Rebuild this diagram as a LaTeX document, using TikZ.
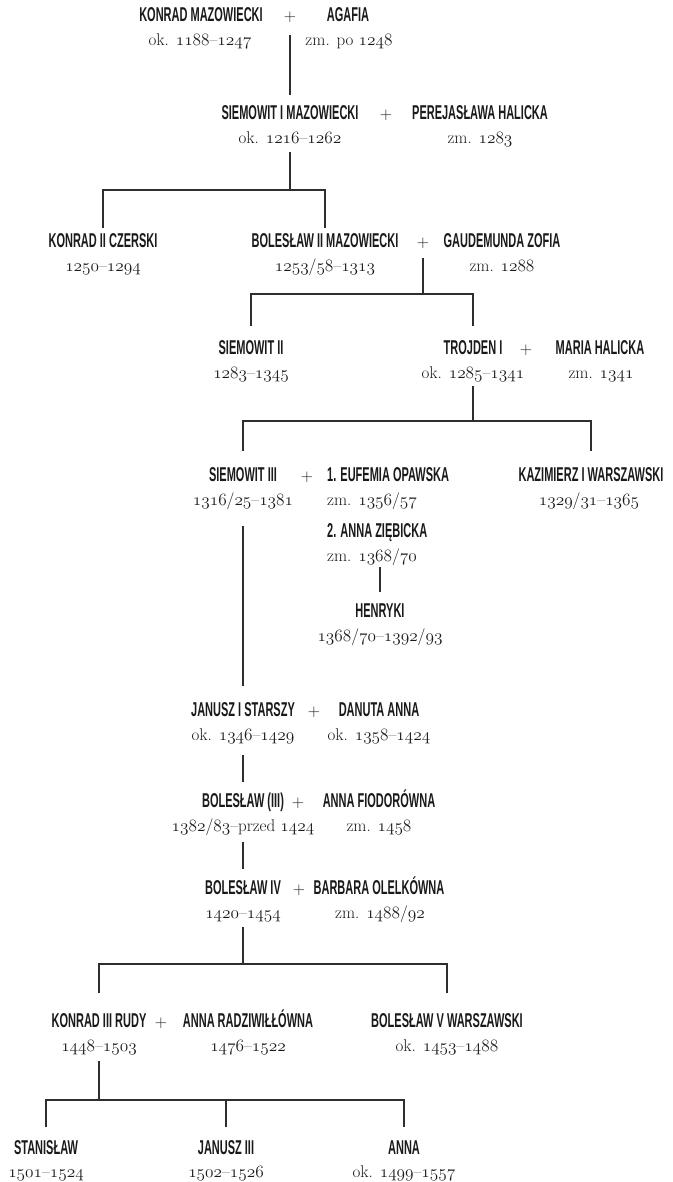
\documentclass[tikz,border=0pt]{standalone}
\usepackage{fontspec}
\newfontfamily\namefont{Liberation Sans}[FakeStretch=0.55]
\newcommand\os[1]{{\usefont{OML}{cmm}{m}{it}#1}}
\definecolor{ink}{HTML}{1A1A1A}
\definecolor{lc}{HTML}{2E2E2E}
\tikzset{
  nm/.style={font=\namefont\bfseries\fontsize{20}{22}\selectfont, text=ink, inner sep=0pt, anchor=base},
  dt/.style={font=\fontsize{17}{20}\selectfont, text=ink, inner sep=0pt, anchor=base},
  pl/.style={font=\fontsize{17}{20}\selectfont, text=ink, inner sep=0pt, anchor=base},
  ln/.style={draw=lc, line width=1.2pt}
}
\begin{document}
\begin{tikzpicture}[x=1pt,y=-1pt]
\fill[white] (0,0) rectangle (672,1182);
\useasboundingbox (0,0) rectangle (672,1182);
% row 1
\node[nm] (kon1) at (201,22) {KONRAD MAZOWIECKI};
\node[pl] (plus1) at (290,22) {+};
\node[nm] (aga1) at (348,22) {AGAFIA};
\node[dt] (kon1D) at (200,46) {ok. \os{1188}–\os{1247}};
\node[dt] (aga1D) at (349,46) {zm. po \os{1248}};
% row 2
\node[nm] (siem1) at (290,120) {SIEMOWIT I MAZOWIECKI};
\node[pl] (plus2) at (386,120) {+};
\node[nm] (per) at (480,120) {PEREJASŁAWA HALICKA};
\node[dt] (siem1D) at (290,144) {ok. \os{1216}–\os{1262}};
\node[dt] (perD) at (480,144) {zm. \os{1283}};
% row 3
\node[nm] (kon2) at (103,247.5) {KONRAD II CZERSKI};
\node[dt] (kon2D) at (103,271) {\os{1250}–\os{1294}};
\node[nm] (bol2) at (325,247.5) {BOLESŁAW II MAZOWIECKI};
\node[pl] (plus3) at (423,247.5) {+};
\node[nm] (gau) at (502,247.5) {GAUDEMUNDA ZOFIA};
\node[dt] (bol2D) at (325,271) {\os{1253}/\os{58}–\os{1313}};
\node[dt] (gauD) at (502,271) {zm. \os{1288}};
% row 4
\node[nm] (siem2) at (251,354) {SIEMOWIT II};
\node[dt] (siem2D) at (251,378) {\os{1283}–\os{1345}};
\node[nm] (tro) at (473,354) {TROJDEN I};
\node[pl] (plus4) at (526,354) {+};
\node[nm] (mar) at (600,354) {MARIA HALICKA};
\node[dt] (troD) at (473,378) {ok. \os{1285}–\os{1341}};
\node[dt] (marD) at (601,378) {zm. \os{1341}};
% row 5
\node[nm] (siem3) at (243,481) {SIEMOWIT III};
\node[pl] (plus5) at (307,481) {+};
\node[nm, anchor=base west] (euf) at (327,481) {1. EUFEMIA OPAWSKA};
\node[nm] (kaz) at (591,481) {KAZIMIERZ I WARSZAWSKI};
\node[dt] (siem3D) at (243,505) {\os{1316}/\os{25}–\os{1381}};
\node[dt, anchor=base west] (eufD) at (327,505) {zm. \os{1356}/\os{57}};
\node[dt] (kazD) at (589,505) {\os{1329}/\os{31}–\os{1365}};
\node[nm, anchor=base west] (ann) at (327,537) {2. ANNA ZIĘBICKA};
\node[dt, anchor=base west] (annD) at (327,561) {zm. \os{1368}/\os{70}};
\node[nm] (hen) at (380,617) {HENRYKI};
\node[dt] (henD) at (380,641) {\os{1368}/\os{70}–\os{1392}/\os{93}};
% row 6
\node[nm] (jan) at (243,716) {JANUSZ I STARSZY};
\node[pl] (plus6) at (314,716) {+};
\node[nm] (dan) at (379,716) {DANUTA ANNA};
\node[dt] (janD) at (243,740) {ok. \os{1346}–\os{1429}};
\node[dt] (danD) at (379,740) {ok. \os{1358}–\os{1424}};
% row 7
\node[nm] (bol3) at (243,807) {BOLESŁAW (III)};
\node[pl] (plus7) at (298,807) {+};
\node[nm] (annaF) at (379,807) {ANNA FIODORÓWNA};
\node[dt] (bol3D) at (243,831) {\os{1382}/\os{83}–przed \os{1424}};
\node[dt] (annaFD) at (379,831) {zm. \os{1458}};
% row 8
\node[nm] (bol4) at (243,894) {BOLESŁAW IV};
\node[pl] (plus8) at (299,894) {+};
\node[nm] (barb) at (379,894) {BARBARA OLELKÓWNA};
\node[dt] (bol4D) at (243,918) {\os{1420}–\os{1454}};
\node[dt] (barbD) at (380,918) {zm. \os{1488}/\os{92}};
% row 9
\node[nm] (kon3) at (99,1027) {KONRAD III RUDY};
\node[pl] (plus9) at (161,1027) {+};
\node[nm] (annR) at (248,1027) {ANNA RADZIWIŁŁÓWNA};
\node[nm] (bol5) at (447,1027) {BOLESŁAW V WARSZAWSKI};
\node[dt] (kon3D) at (99,1051) {\os{1448}–\os{1503}};
\node[dt] (annRD) at (248,1051) {\os{1476}–\os{1522}};
\node[dt] (bol5D) at (447,1051) {ok. \os{1453}–\os{1488}};
% row 10
\node[nm] (sta) at (46,1154) {STANISŁAW};
\node[nm] (jan3) at (226,1154) {JANUSZ III};
\node[nm] (anna) at (404,1154) {ANNA};
\node[dt] (staD) at (46,1177) {\os{1501}–\os{1524}};
\node[dt] (jan3D) at (226,1177) {\os{1502}–\os{1526}};
\node[dt] (annaD) at (404,1177) {ok. \os{1499}–\os{1557}};
% connectors
\draw[ln] (plus1.base) ++(0,13) -- ([yshift=25pt]siem1.base);
\coordinate (bar2) at (290,190);
\draw[ln] (siem1D.base) ++(0,8) -- (bar2);
\draw[ln] ([yshift=19.5pt]kon2.base) |- (bar2) -| ([yshift=19.5pt]bol2.base);
\coordinate (bar3) at (423,294);
\draw[ln] (plus3.base) ++(0,10.5) -- (bar3);
\draw[ln] ([yshift=28pt]siem2.base) |- (bar3) -| ([yshift=28pt]tro.base);
\coordinate (bar4) at (473,421);
\draw[ln] (troD.base) ++(0,8) -- (bar4);
\draw[ln] ([yshift=30pt]siem3.base) |- (bar4) -| ([yshift=30pt]kaz.base);
\draw[ln] (siem3D.base) ++(0,21) -- ([yshift=30pt]jan.base);
\draw[ln] (annD.base -| hen.base) ++(0,6) -- ([yshift=25pt]hen.base);
\draw[ln] (janD.base) ++(0,15) -- ([yshift=25pt]bol3.base);
\draw[ln] (bol3D.base) ++(0,11) -- ([yshift=25pt]bol4.base);
\coordinate (bar8) at (243,964);
\draw[ln] (bol4D.base) ++(0,9) -- (bar8);
\draw[ln] ([yshift=34pt]kon3.base) |- (bar8) -| ([yshift=34pt]bol5.base);
\coordinate (bar9) at (99,1100);
\draw[ln] (kon3D.base) ++(0,10) -- (bar9);
\draw[ln] ([yshift=27pt]sta.base) |- (bar9) -| ([yshift=27pt]anna.base);
\draw[ln] ([yshift=27pt]jan3.base) -- (jan3.base |- bar9);
\end{tikzpicture}
\end{document}
